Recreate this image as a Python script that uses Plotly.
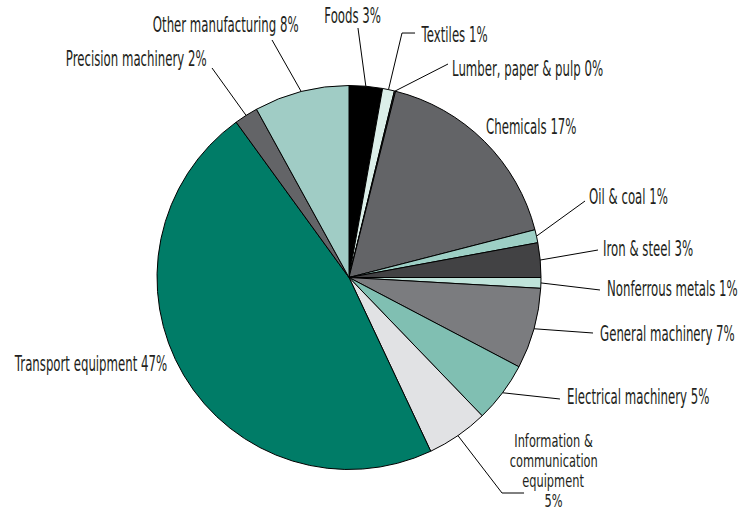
import json
import math
import plotly.graph_objects as go

# ---------------- data ----------------
categories = [
    "Foods", "Textiles", "Lumber, paper & pulp", "Chemicals", "Oil & coal",
    "Iron & steel", "Nonferrous metals", "General machinery",
    "Electrical machinery", "Information & communication equipment",
    "Transport equipment", "Precision machinery", "Other manufacturing",
]
shares = [2.8, 1.0, 0.1, 17.1, 1.1, 2.9, 0.9, 6.8, 5.1, 5.2, 47.0, 2.0, 8.0]
pct_labels = ["3%", "1%", "0%", "17%", "1%", "3%", "1%", "7%", "5%", "5%", "47%", "2%", "8%"]

colors = [
    "#000000", "#dcefe9", "#4a4a4c", "#636467", "#9dcfc5", "#424244",
    "#bfe3da", "#7b7c7f", "#80bfb2", "#e1e2e4", "#007c67", "#636467", "#a0ccc5",
]

# ---------------- layout geometry (pixels) ----------------
W, H = 741, 512
CX, CY, R = 349, 277.5, 192
FONT = "DejaVu Sans"
FONT_SIZE = 21
SQUEEZE = 0.56          # horizontal condensing factor for FONT_SIZE
SMALL_SIZE = 17         # stacked multi-line label
TXT = "#231f20"

# label placement: (list of (text line, y px)), x px, xanchor, leader waypoints px
label_layout = {
    "Foods": ([(None, 16)], 352, "center", [(358, 28)]),
    "Textiles": ([(None, 35)], 420, "left", [(402, 33), (415, 33)]),
    "Lumber, paper & pulp": ([(None, 69)], 451, "left", [(448, 64)]),
    "Chemicals": ([(None, 127)], 485, "left", []),
    "Oil & coal": ([(None, 197)], 588, "left", [(585, 201)]),
    "Iron & steel": ([(None, 249)], 602, "left", [(598, 250)]),
    "Nonferrous metals": ([(None, 289)], 606, "left", [(600, 290)]),
    "General machinery": ([(None, 334)], 599, "left", [(593, 333)]),
    "Electrical machinery": ([(None, 397)], 566, "left", [(560, 399)]),
    "Information & communication equipment": (
        [("Information &", 441), ("communication", 461), ("equipment", 481), ("", 501)],
        553, "center", [(502, 493), (524, 493)]),
    "Transport equipment": ([(None, 364)], 168, "right", []),
    "Precision machinery": ([(None, 59)], 208, "right", [(212, 68)]),
    "Other manufacturing": ([(None, 25)], 300, "right", [(272, 40)]),
}


def px2paper(x, y):
    return x / W, 1 - y / H


fig = go.Figure()
fig.add_trace(go.Pie(
    labels=categories,
    values=shares,
    sort=False,
    direction="clockwise",
    rotation=0,
    marker=dict(colors=colors, line=dict(color="#000000", width=1)),
    textinfo="none",
    hoverinfo="label+value",
    showlegend=False,
    domain=dict(
        x=[(CX - R) / W, (CX + R) / W],
        y=[1 - (CY + R) / H, 1 - (CY - R) / H],
    ),
))

total = sum(shares)
cum = 0.0
shapes = []
annotations = []
squeeze_list = []
for cat, val, pct in zip(categories, shares, pct_labels):
    mid = (cum + val / 2) / total * 2 * math.pi
    cum += val
    lines, tx, xanc, pts = label_layout[cat]
    sx = CX + R * math.sin(mid)
    sy = CY - R * math.cos(mid)
    if pts:
        path_pts = [(sx, sy)] + pts
        d = "M " + " L ".join(
            "{:.4f},{:.4f}".format(*px2paper(x, y)) for x, y in path_pts)
        shapes.append(dict(type="path", xref="paper", yref="paper", path=d,
                           line=dict(color="#000000", width=1)))
    size = FONT_SIZE if len(lines) == 1 else SMALL_SIZE
    for line_text, ty in lines:
        if line_text is None:
            text = cat + " " + pct
        elif line_text == "":
            text = pct
        else:
            text = line_text
        px_, py_ = px2paper(tx, ty)
        annotations.append(dict(
            x=px_, y=py_, xref="paper", yref="paper", text=text, showarrow=False,
            xanchor=xanc, yanchor="middle", align="center", borderpad=0,
            font=dict(family=FONT, size=size, color=TXT),
        ))
        squeeze_list.append(round(SQUEEZE * FONT_SIZE / size * (0.97 if size != FONT_SIZE else 1), 3))

fig.update_layout(
    width=W, height=H,
    margin=dict(l=0, r=0, t=0, b=0),
    paper_bgcolor="white", plot_bgcolor="white",
    shapes=shapes, annotations=annotations,
)

# horizontally condense the label glyphs (the source uses a condensed face)
post_script = """
var gd = document.getElementById('{plot_id}');
var sq = %s;
gd.querySelectorAll('g.annotation').forEach(function(g){
  var i = +g.getAttribute('data-index');
  var anc = gd.layout.annotations[i].xanchor;
  var s = sq[i];
  var t = g.querySelector('text.annotation-text');
  if (!t) return;
  var bb = t.getBBox();
  var ax = anc === 'left' ? bb.x : (anc === 'right' ? bb.x + bb.width : bb.x + bb.width / 2);
  t.setAttribute('transform', 'translate(' + ax + ',0) scale(' + s + ',1) translate(' + (-ax) + ',0)');
});
""" % json.dumps(squeeze_list)

fig.write_html("out.html", post_script=post_script)
